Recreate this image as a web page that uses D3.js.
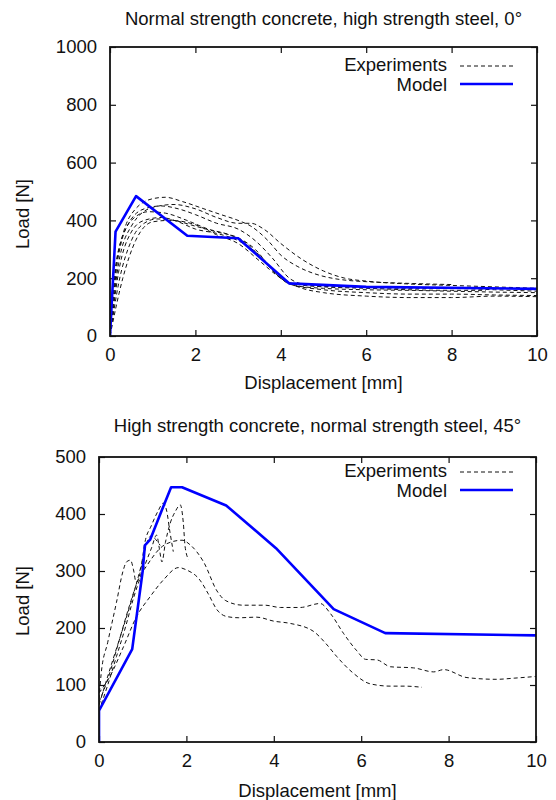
<!DOCTYPE html>
<html>
<head>
<meta charset="utf-8">
<script src="https://cdn.jsdelivr.net/npm/d3@7"></script>
<style>
  body { margin: 0; background: #fff; }
  svg text { font-family: "Liberation Sans", Arial, sans-serif; fill: #111; }
</style>
</head>
<body>
<script>
// ---- data (displacement mm, load N) ----
var xTicks = [0, 2, 4, 6, 8, 10];
var yTicksTop = [0, 200, 400, 600, 800, 1000];
var yTicksBottom = [0, 100, 200, 300, 400, 500];

var titleTop = "Normal strength concrete, high strength steel, 0°";
var titleBottom = "High strength concrete, normal strength steel, 45°";

// top panel experiments
var expTop1 = [[0,0],[0.1,200],[0.3,350],[0.6,440],[1.0,475],[1.3,480],[1.7,465],[2.2,440],[2.6,420],[3.0,400],[3.3,380],[3.7,330],[4.0,280],[4.4,240],[4.8,215],[5.2,200],[5.6,192],[6,188],[7,182],[8,178]];
var expTop2 = [[0,0],[0.2,250],[0.5,380],[1.0,445],[1.5,455],[2.0,440],[2.5,410],[3.0,390],[3.3,390],[3.6,370],[4.0,320],[4.5,265],[5.0,225],[5.5,200],[6,190],[7,180],[8,175],[9,170],[10,165]];
var expTop3 = [[0,0],[0.2,220],[0.5,360],[0.8,400],[1.2,410],[1.6,395],[2.0,370],[2.5,355],[3.0,330],[3.5,280],[4.0,200],[4.3,175],[5,165],[6,160],[7,158],[8,155],[9,152],[10,150]];
var expTop4 = [[0,0],[0.2,180],[0.5,330],[0.8,390],[1.1,405],[1.5,400],[2,380],[2.5,360],[3,340],[3.4,300],[3.8,230],[4.2,180],[5,160],[6,150],[7,145],[8,145],[9,142],[10,140]];
var expTop5 = [[0,0],[0.3,200],[0.6,330],[1.0,395],[1.4,400],[2,385],[2.5,350],[3,320],[3.5,260],[4,200],[4.5,165],[5,150],[6,138],[7,133],[8,133],[9,138],[10,136]];
var expTop6 = [[0,0],[0.15,250],[0.4,380],[0.8,440],[1.2,450],[1.6,440],[2,420],[2.5,390],[3,370],[3.4,330],[3.8,270],[4.2,200],[4.5,180],[5,172],[6,168],[7,165],[8,165],[9,160],[10,155]];
var expTop7 = [[0,0],[0.2,280],[0.5,400],[0.9,430],[1.3,425],[1.8,400],[2.3,370],[2.8,350],[3.2,320],[3.6,260],[4,200],[4.4,178],[5,170],[6,165],[7,160],[8,158],[8.8,158]];
var modelTop = [[0,0],[0.13,361],[0.61,484],[1.81,347],[3.0,338],[4.2,182],[6,170],[10,163]];

// bottom panel experiments
var expBot1 = [[0,70],[0.2,110],[0.45,175],[0.7,240],[0.9,285],[1.1,310],[1.4,340],[1.7,352],[1.9,354],[2.1,345],[2.4,315],[2.7,265],[2.9,248],[3.3,240],[3.8,240],[4.15,236],[4.6,236],[5.06,243],[5.3,225],[5.6,190],[5.9,160],[6.1,145],[6.36,144],[6.67,132],[7.2,130],[7.66,123],[7.89,127],[8.42,113],[9.1,110],[9.5,112],[10,115]];
var expBot2 = [[0,86],[0.25,115],[0.56,167],[0.86,220],[1.17,255],[1.47,284],[1.82,306],[2.0,302],[2.31,284],[2.5,260],[2.7,232],[2.93,220],[3.2,218],[3.61,219],[4.0,212],[4.38,208],[4.91,194],[5.2,172],[5.44,150],[5.8,122],[6.21,102],[6.67,98],[7.0,98],[7.39,96]];
var expBot3 = [[0,75],[0.05,120],[0.2,175],[0.4,245],[0.55,300],[0.63,316],[0.72,319],[0.79,302],[0.85,280],[0.95,300],[1.05,350],[1.2,380],[1.35,405],[1.47,419],[1.55,405],[1.62,370],[1.7,334]];
var expBot4 = [[0,55],[0.2,100],[0.4,150],[0.6,200],[0.8,255],[1.0,300],[1.2,340],[1.32,363],[1.38,340],[1.44,316],[1.52,350],[1.63,384],[1.75,405],[1.86,416],[1.93,384],[1.97,343],[2.05,320]];
var expBot5 = [[0,65],[0.3,140],[0.55,200],[0.75,250],[0.9,290],[1.0,320],[1.1,350],[1.2,362],[1.3,355],[1.4,345]];
var modelBot = [[0,0],[0,55],[0.76,163],[1.0,300],[1.05,345],[1.17,355],[1.44,407],[1.65,447],[1.9,447],[2.91,415],[4.05,340],[5.37,233],[6.55,191],[10,187]];

var W = 556, H = 800;
var FS = 18.5;
var svg = d3.select("body").append("svg")
  .attr("width", W)
  .attr("height", H);

function drawPanel(p) {
  var x = d3.scaleLinear().domain([0, 10]).range([p.left, p.right]);
  var y = d3.scaleLinear().domain([0, p.yMax]).range([p.bottom, p.top]);
  var g = svg.append("g");

  // clip so lines stay inside frame
  var clipId = "clip" + p.id;
  g.append("clipPath").attr("id", clipId)
    .append("rect")
    .attr("x", p.left).attr("y", p.top)
    .attr("width", p.right - p.left).attr("height", p.bottom - p.top);

  // axes, ticks pointing inward, mirrored on top/right
  g.append("g")
    .attr("transform", "translate(0," + p.bottom + ")")
    .call(d3.axisBottom(x).tickValues(xTicks).tickFormat(d3.format("d")).tickSize(-6).tickSizeOuter(0).tickPadding(12))
    .call(ax => ax.select(".domain").remove());
  g.append("g")
    .attr("transform", "translate(0," + p.top + ")")
    .call(d3.axisTop(x).tickValues(xTicks).tickSize(-6).tickSizeOuter(0).tickFormat(""))
    .call(ax => ax.select(".domain").remove());
  g.append("g")
    .attr("transform", "translate(" + p.left + ",0)")
    .call(d3.axisLeft(y).tickValues(p.yTicks).tickFormat(d3.format("d")).tickSize(-6).tickSizeOuter(0).tickPadding(13))
    .call(ax => ax.select(".domain").remove());
  g.append("g")
    .attr("transform", "translate(" + p.right + ",0)")
    .call(d3.axisRight(y).tickValues(p.yTicks).tickSize(-6).tickSizeOuter(0).tickFormat(""))
    .call(ax => ax.select(".domain").remove());

  g.selectAll(".tick line").attr("stroke", "#111").attr("stroke-width", 1.2);
  g.selectAll(".tick text")
    .attr("font-size", FS)
    .attr("font-family", "Liberation Sans, Arial, sans-serif")
    .attr("fill", "#111");

  var line = d3.line()
    .x(d => x(d[0]))
    .y(d => y(d[1]))
    .curve(d3.curveMonotoneX);

  var lines = g.append("g").attr("clip-path", "url(#" + clipId + ")");
  lines.selectAll(".exp")
    .data(p.exps)
    .enter().append("path")
    .attr("class", "exp")
    .attr("d", line)
    .attr("fill", "none")
    .attr("stroke", "#111")
    .attr("stroke-width", 1)
    .attr("stroke-dasharray", "4,3");

  var modelLine = d3.line()
    .x(d => x(d[0]))
    .y(d => y(d[1]));
  lines.append("path")
    .datum(p.model)
    .attr("d", modelLine)
    .attr("fill", "none")
    .attr("stroke", "#0000ff")
    .attr("stroke-width", 2.6)
    .attr("stroke-linejoin", "round");

  // frame
  g.append("rect")
    .attr("x", p.left).attr("y", p.top)
    .attr("width", p.right - p.left).attr("height", p.bottom - p.top)
    .attr("fill", "none")
    .attr("stroke", "#111")
    .attr("stroke-width", 1.8);

  // titles and labels
  g.append("text")
    .attr("x", (p.left + p.right) / 2)
    .attr("y", p.titleY)
    .attr("text-anchor", "middle")
    .attr("dominant-baseline", "central")
    .attr("font-size", FS)
    .text(p.title);

  g.append("text")
    .attr("x", (p.left + p.right) / 2)
    .attr("y", p.xLabelY)
    .attr("text-anchor", "middle")
    .attr("dominant-baseline", "central")
    .attr("font-size", FS)
    .text("Displacement [mm]");

  g.append("text")
    .attr("transform", "translate(22," + p.yLabelY + ") rotate(-90)")
    .attr("text-anchor", "middle")
    .attr("dominant-baseline", "central")
    .attr("font-size", FS)
    .text("Load [N]");

  // legend
  var lg = g.append("g");
  lg.append("text")
    .attr("x", p.legX).attr("y", p.legY)
    .attr("text-anchor", "end")
    .attr("dominant-baseline", "central")
    .attr("font-size", FS)
    .text("Experiments");
  lg.append("line")
    .attr("x1", p.legX + 13).attr("x2", p.legX + 66)
    .attr("y1", p.legY + 2).attr("y2", p.legY + 2)
    .attr("stroke", "#111").attr("stroke-width", 1)
    .attr("stroke-dasharray", "4,3");
  lg.append("text")
    .attr("x", p.legX).attr("y", p.legY + p.legGap)
    .attr("text-anchor", "end")
    .attr("dominant-baseline", "central")
    .attr("font-size", FS)
    .text("Model");
  lg.append("line")
    .attr("x1", p.legX + 13).attr("x2", p.legX + 66)
    .attr("y1", p.legY + p.legGap).attr("y2", p.legY + p.legGap)
    .attr("stroke", "#0000ff").attr("stroke-width", 2.6);
}

drawPanel({
  id: 1, left: 110, right: 537, top: 47, bottom: 336,
  yMax: 1000, yTicks: yTicksTop,
  exps: [expTop1, expTop2, expTop3, expTop4, expTop5, expTop6, expTop7],
  model: modelTop,
  title: titleTop, titleY: 18, xLabelY: 382, yLabelY: 214,
  legX: 447, legY: 64, legGap: 20
});

drawPanel({
  id: 2, left: 99, right: 536, top: 457, bottom: 742,
  yMax: 500, yTicks: yTicksBottom,
  exps: [expBot1, expBot2, expBot3, expBot4, expBot5],
  model: modelBot,
  title: titleBottom, titleY: 425, xLabelY: 790, yLabelY: 601,
  legX: 447, legY: 470, legGap: 20
});
</script>
</body>
</html>
